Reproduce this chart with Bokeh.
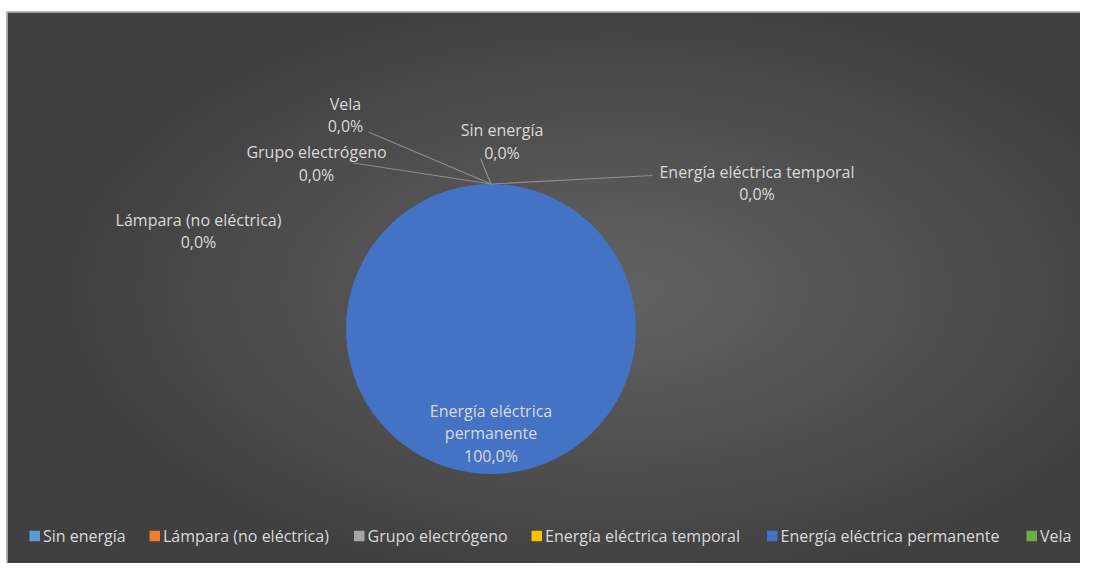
import numpy as np
from bokeh.plotting import figure
from bokeh.models import Range1d, ColumnDataSource
from bokeh.core.properties import value
from bokeh.embed import file_html
from bokeh.resources import INLINE

# ---------------- data ----------------
categories = ["Sin energía", "Lámpara (no eléctrica)", "Grupo electrógeno",
              "Energía eléctrica temporal", "Energía eléctrica permanente", "Vela"]
percent = [0.0, 0.0, 0.0, 0.0, 100.0, 0.0]
colors = ["#5b9bd5", "#ed7d31", "#a5a5a5", "#ffc000", "#4472c4", "#70ad47"]
label_names = ["Sin energía", "Lámpara (no eléctrica)", "Grupo electrógeno",
               "Energía eléctrica temporal", "Energía eléctrica\npermanente", "Vela"]

# ---------------- layout (pixel coordinates of the reference) ----------------
W, H = 1080, 563


def X(px):
    return px


def Y(py):
    return H - py


PIE_C = (490.5, 328.5)
PIE_R = 145.0
label_pos = [(501.5, 141), (198, 230.5), (316, 163), (756.5, 182.5), (490.5, 433), (345, 114.5)]
leader_start = [(480, 158), None, (353, 162.5), (652, 175), None, (368, 131.5)]
legend_sq_x = [29, 149, 353.5, 531, 766.5, 1026]
LEG_Y = 535.5
FONT = "Open Sans"
FS = "16px"
TXT = "#d9d9d9"

p = figure(width=W, height=H, output_backend="svg", toolbar_location=None,
           x_range=Range1d(0, W), y_range=Range1d(0, H), min_border=0,
           background_fill_color="white", border_fill_color="white")
p.axis.visible = False
p.grid.visible = False
p.outline_line_color = None

# background radial gradient panel
top = 11
ph = H - top
yy, xx = np.mgrid[0:ph, 0:W]
pyy = (H - 1 - yy).astype(float)  # row 0 at bottom
pxx = xx.astype(float)
cx, cy = 610.0, 290.0
d = np.sqrt(((pxx - cx) / 560.0) ** 2 + ((pyy - cy) / 300.0) ** 2)
t = np.clip(d, 0, 1)
c0, c1 = 0x63, 0x40
g = (c0 + (c1 - c0) * t).astype(np.uint32)
img = (255 << 24) | (g << 16) | (g << 8) | g
p.image_rgba(image=[img.astype(np.uint32)], x=6, y=0, dw=W, dh=ph)
p.quad(left=[6.5], right=[W + 5], bottom=[-5], top=[ph - 0.5], fill_alpha=0,
       line_color="#bfbfbf", line_width=1.5)

# pie (only slices with a non-zero share are drawn)
frac = np.array(percent) / sum(percent)
cum = np.concatenate([[0], np.cumsum(frac)])
start = np.pi / 2 - cum[:-1] * 2 * np.pi
span = np.minimum(frac * 2 * np.pi, 2 * np.pi - 1e-4)
end = start - span
mid = np.pi / 2 - (cum[:-1] + frac / 2) * 2 * np.pi
nz = frac > 0
src = ColumnDataSource(dict(x=[X(PIE_C[0])] * int(nz.sum()), y=[Y(PIE_C[1])] * int(nz.sum()),
                            start=start[nz], end=end[nz],
                            color=[c for c, k in zip(colors, nz) if k]))
p.wedge(x="x", y="y", radius=PIE_R, start_angle="start", end_angle="end",
        direction="clock", fill_color="color", line_color=None, source=src)

# leader lines
for i, s in enumerate(leader_start):
    if s is None:
        continue
    ex = X(PIE_C[0]) + PIE_R * np.cos(mid[i])
    ey = Y(PIE_C[1]) + PIE_R * np.sin(mid[i])
    p.line([X(s[0]), ex], [Y(s[1]), ey], line_color="#8c8c8c", line_width=1.2)

# data labels
ltxt = [f"{n}\n{v:.1f}".replace(".", ",") + "%" for n, v in zip(label_names, percent)]
p.text(x=[X(a) for a, b in label_pos], y=[Y(b) for a, b in label_pos], text=ltxt,
       text_font=value(FONT), text_font_size=value(FS), text_color=TXT,
       text_align="center", text_baseline="middle", text_line_height=1.03)

# legend
SQ = 10.5
p.rect(x=[X(v + SQ / 2) for v in legend_sq_x], y=[Y(LEG_Y)] * 6, width=SQ, height=SQ,
       fill_color=colors, line_color=None)
p.text(x=[X(v + SQ + 3) for v in legend_sq_x], y=[Y(LEG_Y)] * 6, text=categories,
       text_font=value(FONT), text_font_size=value(FS), text_color=TXT,
       text_align="left", text_baseline="middle")

open("out.html", "w").write(file_html(p, INLINE))
